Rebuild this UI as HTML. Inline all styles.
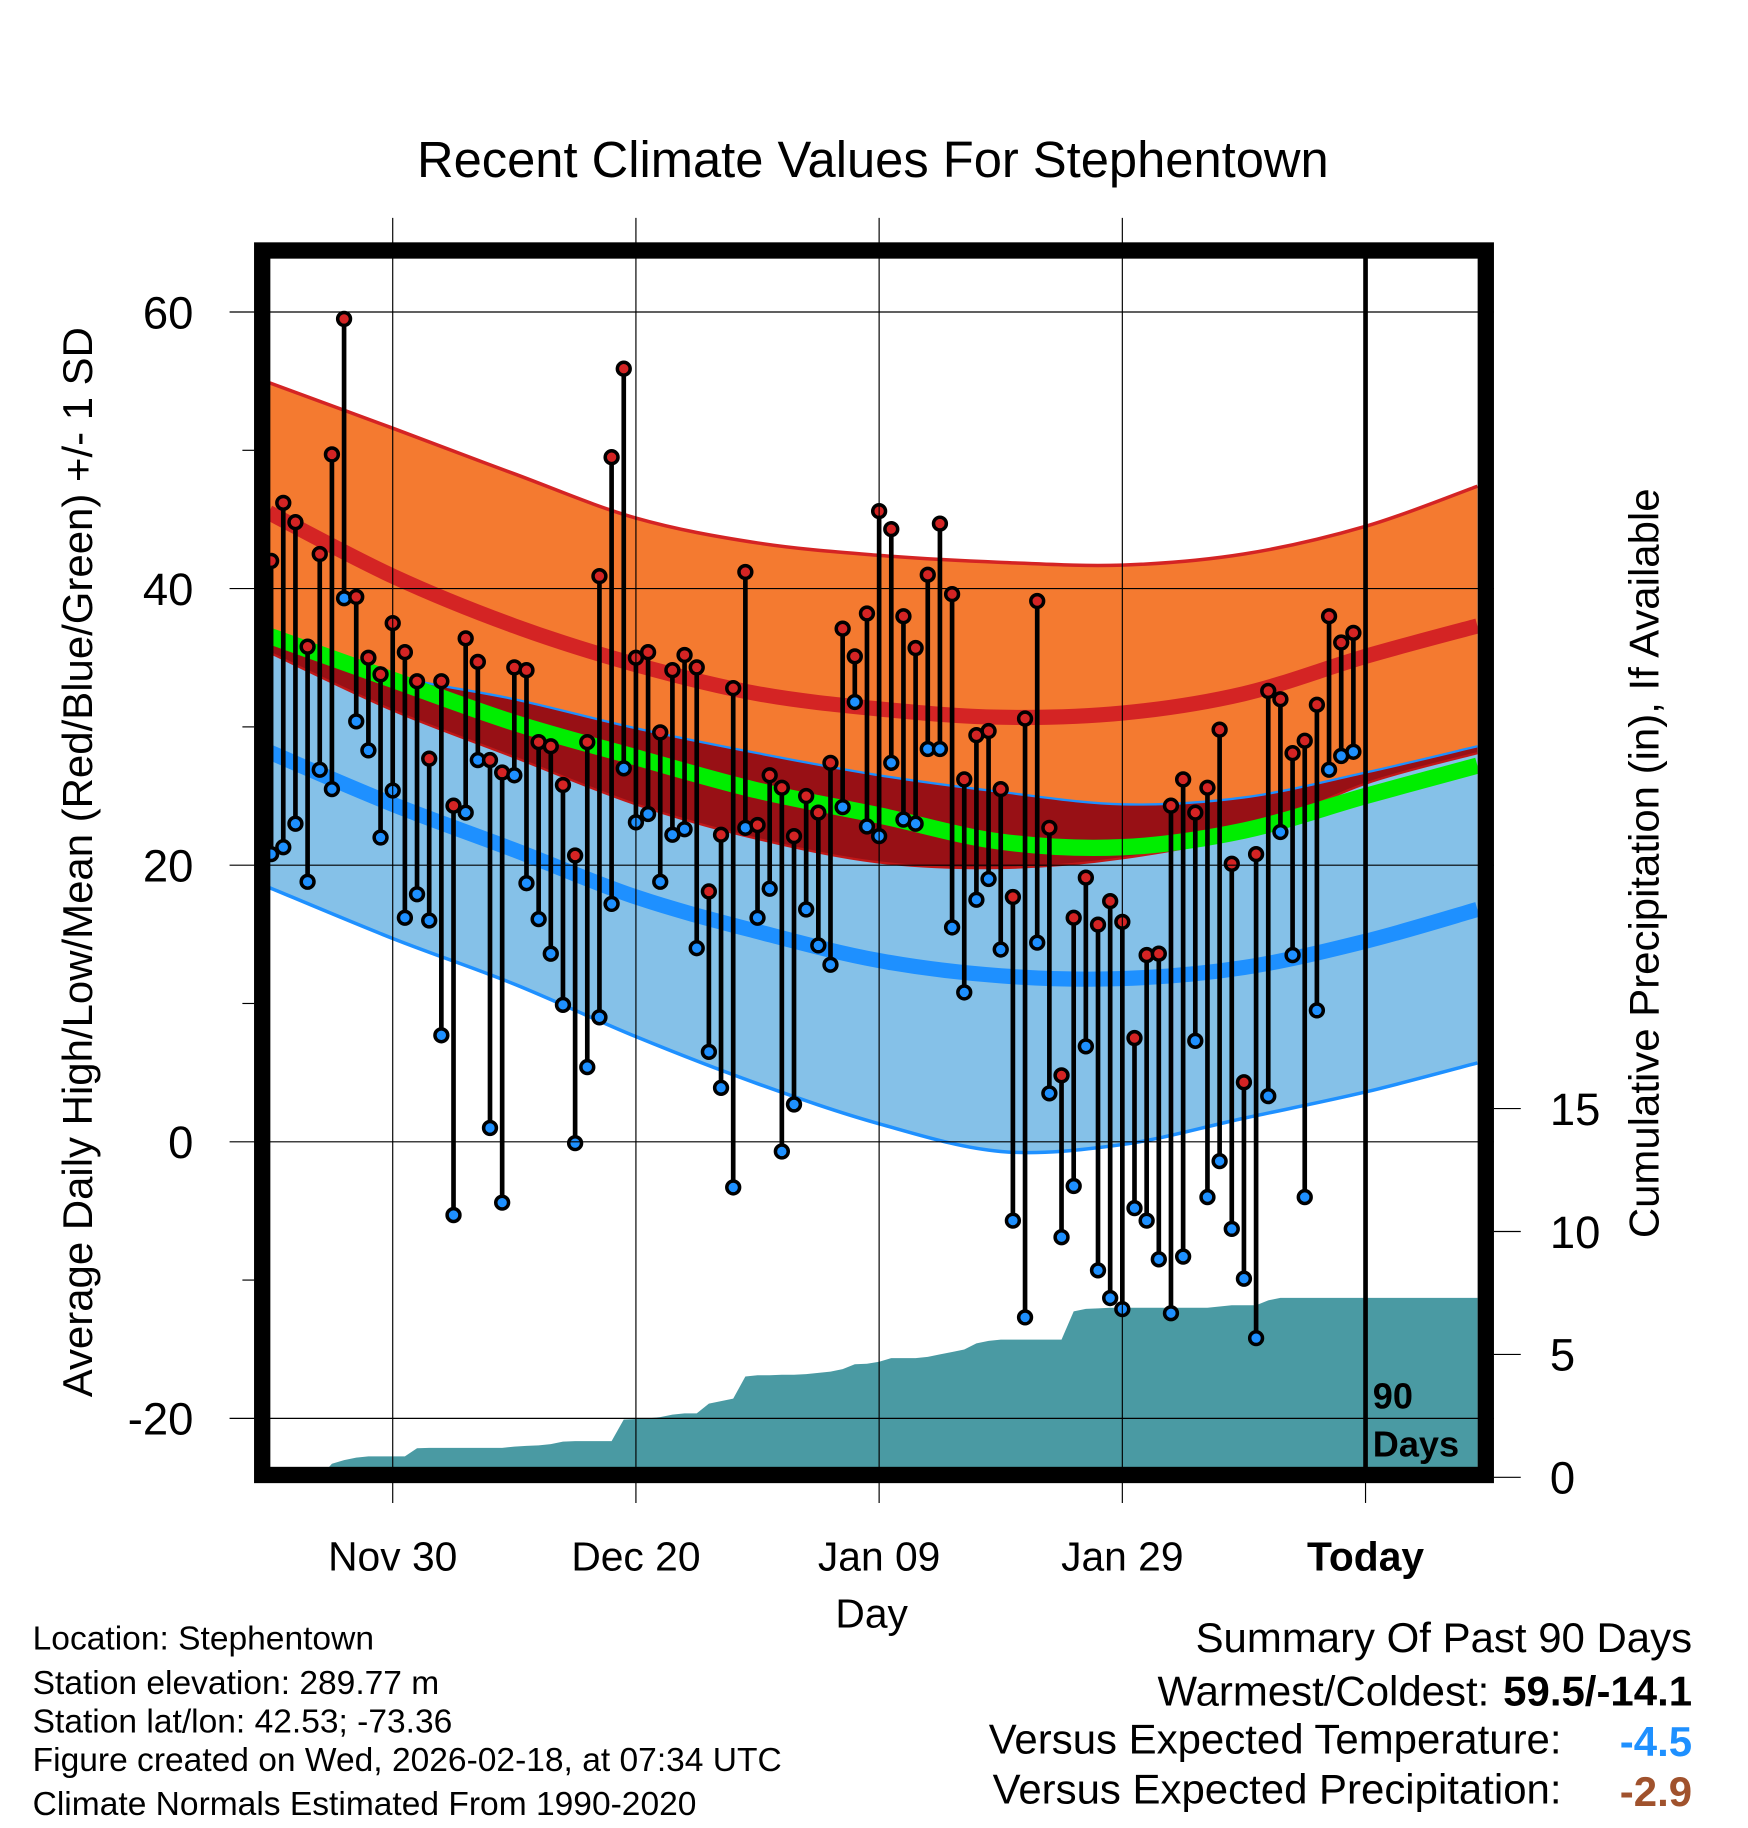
<!DOCTYPE html>
<html><head><meta charset="utf-8"><style>html,body{margin:0;padding:0;background:#fff}svg{display:block}text{font-family:"Liberation Sans",sans-serif}</style></head>
<body>
<svg id="chart" width="1748" height="1828" viewBox="0 0 1500 1569" preserveAspectRatio="none" xmlns="http://www.w3.org/2000/svg">
<defs><clipPath id="pc"><rect x="231" y="221" width="1037" height="1039"/></clipPath></defs>
<rect width="1500" height="1569" fill="#fff"/>
<text x="749" y="152" font-size="43.5" text-anchor="middle">Recent Climate Values For Stephentown</text>
<g id="plot" clip-path="url(#pc)"></g>
<g id="axes"></g>
<rect x="225" y="215" width="1050" height="1051" fill="none" stroke="#000" stroke-width="14"/>
<text transform="translate(79,740) rotate(-90)" font-size="36" text-anchor="middle">Average Daily High/Low/Mean (Red/Blue/Green) +/- 1 SD</text>
<text transform="translate(1423,741) rotate(-90)" font-size="36" text-anchor="middle">Cumulative Precipitation (in), If Available</text>
<text x="748" y="1397" font-size="35" text-anchor="middle">Day</text>
<text x="1178" y="1209" font-size="31" font-weight="bold">90</text>
<text x="1178" y="1250" font-size="31" font-weight="bold">Days</text>
<g font-size="28.8">
<text x="28" y="1416">Location: Stephentown</text>
<text x="28" y="1454">Station elevation: 289.77 m</text>
<text x="28" y="1487">Station lat/lon: 42.53; -73.36</text>
<text x="28" y="1520">Figure created on Wed, 2026-02-18, at 07:34 UTC</text>
<text x="28" y="1558">Climate Normals Estimated From 1990-2020</text>
</g>
<g font-size="36">
<text x="1452" y="1418" text-anchor="end">Summary Of Past 90 Days</text>
<text x="1278" y="1464" text-anchor="end">Warmest/Coldest:</text>
<text x="1452" y="1464" text-anchor="end" font-weight="bold">59.5/-14.1</text>
<text x="1340" y="1505" text-anchor="end">Versus Expected Temperature:</text>
<text x="1452" y="1507" text-anchor="end" font-weight="bold" fill="#1e90ff">-4.5</text>
<text x="1340" y="1548" text-anchor="end">Versus Expected Precipitation:</text>
<text x="1452" y="1550" text-anchor="end" font-weight="bold" fill="#a0522d">-2.9</text>
</g>
</svg>
<script>
const highs=[42.0,46.2,44.8,35.8,42.5,49.7,59.5,39.4,35.0,33.8,37.5,35.4,33.3,27.7,33.3,24.3,36.4,34.7,27.6,26.7,34.3,34.1,28.9,28.6,25.8,20.7,28.9,40.9,49.5,55.9,35.0,35.4,29.6,34.1,35.2,34.3,18.1,22.2,32.8,41.2,22.9,26.5,25.6,22.1,25.0,23.8,27.4,37.1,35.1,38.2,45.6,44.3,38.0,35.7,41.0,44.7,39.6,26.2,29.4,29.7,25.5,17.7,30.6,39.1,22.7,4.8,16.2,19.1,15.7,17.4,15.9,7.5,13.5,13.6,24.3,26.2,23.8,25.6,29.8,20.1,4.3,20.8,32.6,32.0,28.1,29.0,31.6,38.0,36.1,36.8];
const lows=[20.8,21.3,23.0,18.8,26.9,25.5,39.3,30.4,28.3,22.0,25.4,16.2,17.9,16.0,7.7,-5.3,23.8,27.6,1.0,-4.4,26.5,18.7,16.1,13.6,9.9,-0.1,5.4,9.0,17.2,27.0,23.1,23.7,18.8,22.2,22.6,14.0,6.5,3.9,-3.3,22.7,16.2,18.3,-0.7,2.7,16.8,14.2,12.8,24.2,31.8,22.8,22.1,27.4,23.3,23.0,28.4,28.4,15.5,10.8,17.5,19.0,13.9,-5.7,-12.7,14.4,3.5,-6.9,-3.2,6.9,-9.3,-11.3,-12.1,-4.8,-5.7,-8.5,-12.4,-8.3,7.3,-4.0,-1.4,-6.3,-9.9,-14.2,3.3,22.4,13.5,-4.0,9.5,26.9,27.9,28.2];
const precip=[0,0,0,0,0,0.55,0.7,0.8,0.85,0.85,0.85,0.85,1.18,1.2,1.2,1.2,1.2,1.2,1.2,1.2,1.25,1.28,1.3,1.35,1.45,1.47,1.47,1.47,1.47,2.35,2.37,2.4,2.45,2.55,2.6,2.6,3.0,3.1,3.2,4.1,4.15,4.15,4.17,4.17,4.2,4.25,4.3,4.4,4.6,4.62,4.7,4.85,4.85,4.85,4.9,5.0,5.1,5.2,5.45,5.55,5.6,5.6,5.6,5.6,5.6,5.6,6.75,6.85,6.87,6.9,6.9,6.9,6.9,6.9,6.9,6.9,6.9,6.9,6.95,7.0,7.0,7.0,7.2,7.3,7.3,7.3,7.3,7.3,7.3,7.3];
const normDays=[-10.2,0,10,20,30,40,50,60,70,80,89.2];
const highPlus=[54.9,51.6,48.3,45.1,43.3,42.4,41.9,41.7,42.5,44.5,47.4];
const highMean=[45.5,40.9,37.3,34.5,32.4,31.3,30.7,31.0,32.4,35.1,37.3];
const highMinus=[35.4,31.2,27.8,24.4,21.9,20.2,19.8,20.5,22.3,25.9,28.1];
const avgMean=[36.6,33.4,30.3,27.8,25.4,23.6,21.7,21.3,22.5,25.0,27.2];
const lowPlus=[36.4,33.7,32.0,29.9,28.1,26.5,25.3,24.4,24.9,26.7,28.6];
const lowMean=[28.2,24.4,21.1,17.7,15.2,13.1,12.0,11.8,12.6,14.5,16.8];
const lowMinus=[18.4,14.7,11.4,7.6,4.2,1.3,-0.7,-0.2,1.7,3.6,5.7];
const tempTicks=[60,40,20,0,-20];
const minorTicks=[50,30,10,-10];
const dateLabels=["Nov 30","Dec 20","Jan 09","Jan 29","Today"];
const dateDays=[0,20,40,60,80];
const precipTicks=[0,5,10,15];

const NS="http://www.w3.org/2000/svg";
const X=d=>337+d*10.435;
const Y=v=>980-v*11.87;
const P=p=>1268-p*21.1;
const firstDay=-10;
function mk(tag,attrs,parent){const e=document.createElementNS(NS,tag);for(const k in attrs)e.setAttribute(k,attrs[k]);parent.appendChild(e);return e;}
const plot=document.getElementById('plot'),axes=document.getElementById('axes');
function smooth(xs,ys){
  let d=`M${xs[0]},${ys[0]}`;
  for(let i=0;i<xs.length-1;i++){const x0=xs[Math.max(i-1,0)],y0=ys[Math.max(i-1,0)],x3=xs[Math.min(i+2,xs.length-1)],y3=ys[Math.min(i+2,ys.length-1)];
    const c1x=xs[i]+(xs[i+1]-x0)/6,c1y=ys[i]+(ys[i+1]-y0)/6,c2x=xs[i+1]-(x3-xs[i])/6,c2y=ys[i+1]-(y3-ys[i])/6;
    d+=` C${c1x},${c1y} ${c2x},${c2y} ${xs[i+1]},${ys[i+1]}`;}
  return d;}
function smoothRev(xs,ys){const rx=[...xs].reverse(),ry=[...ys].reverse();return smooth(rx,ry).replace(/^M/,'L');}
const nx=normDays.map(X);
function band(top,bot,fill,name){
  const e=mk('path',{d:smooth(nx,top.map(Y))+' '+smoothRev(nx,bot.map(Y))+' Z',fill:fill},plot);
  
  return e;}
function line(vals,color,w,name){
  const e=mk('path',{d:smooth(nx,vals.map(Y)),fill:'none',stroke:color,'stroke-width':w},plot);
  
  return e;}
band(highPlus,highMinus,'#f47a30','high-sd-band');
line(highPlus,'#d42424',3,'high-plus-sd-line');
band(lowPlus,lowMinus,'#85c1e8','low-sd-band');
const ovTop=lowPlus.map((v,i)=>Math.min(v,highPlus[i]));
const ovBot=highMinus.map((v,i)=>Math.min(v,ovTop[i]));
band(ovTop,ovBot,'#981015','overlap-band');
line(lowPlus,'#1e90ff',2,'low-plus-sd-line');
line(lowMinus,'#1e90ff',3,'low-minus-sd-line');
line(highMinus,'#c01818',2,'high-minus-sd-line');
line(highMean,'#d42424',13,'mean-high-line');
line(avgMean,'#00ee00',14,'mean-avg-line');
line(lowMean,'#1e90ff',13,'mean-low-line');
let pd=`M${X(firstDay)},1275`;
precip.forEach((p,i)=>{pd+=` L${X(firstDay+i)},${P(p)}`;});
pd+=` L1270,${P(precip[precip.length-1])} L1270,1275 Z`;
const pa=mk('path',{d:pd,fill:'#4a9aa3'},plot);


tempTicks.forEach(t=>{
  const g=mk('line',{x1:197,x2:1282,y1:Y(t),y2:Y(t),stroke:'#000','stroke-width':1},axes);
  
  
  const tx=mk('text',{x:166,y:Y(t)+14,'font-size':39,'text-anchor':'end'},axes);tx.textContent=t;
  
  
});
minorTicks.forEach(t=>{const g=mk('line',{x1:208,x2:218,y1:Y(t),y2:Y(t),stroke:'#000','stroke-width':1},axes);
  
  });
dateDays.forEach((d,i)=>{
  const last=i===dateDays.length-1;
  const g=mk('line',{x1:X(d),x2:X(d),y1:last?221:187,y2:last?1262:1290,stroke:'#000','stroke-width':last?4:1},axes);
  
  
  if(last){const t2=mk('line',{x1:X(d),x2:X(d),y1:1266,y2:1290,stroke:'#000','stroke-width':1},axes);
    
    }
  const tx=mk('text',{x:X(d),y:1348,'font-size':35,'text-anchor':'middle','font-weight':last?'bold':'normal'},axes);tx.textContent=dateLabels[i];
  
  
});
precipTicks.forEach(p=>{
  const g=mk('line',{x1:1282,x2:1305,y1:P(p),y2:P(p),stroke:'#000','stroke-width':1},axes);
  
  
  const tx=mk('text',{x:1330,y:P(p)+14,'font-size':39},axes);tx.textContent=p;
  
  
});
highs.forEach((h,i)=>{
  const x=X(firstDay+i),l=lows[i];
  const s=mk('line',{x1:x,x2:x,y1:Y(h),y2:Y(l),stroke:'#000','stroke-width':4},plot);
  
  
});
highs.forEach((h,i)=>{
  const x=X(firstDay+i);
  const c1=mk('circle',{cx:x,cy:Y(h),r:5.5,fill:'#d42424',stroke:'#000','stroke-width':3},plot);
  
  
  const c2=mk('circle',{cx:x,cy:Y(lows[i]),r:5.5,fill:'#1e90ff',stroke:'#000','stroke-width':3},plot);
  
  
});
</script>
</body></html>
